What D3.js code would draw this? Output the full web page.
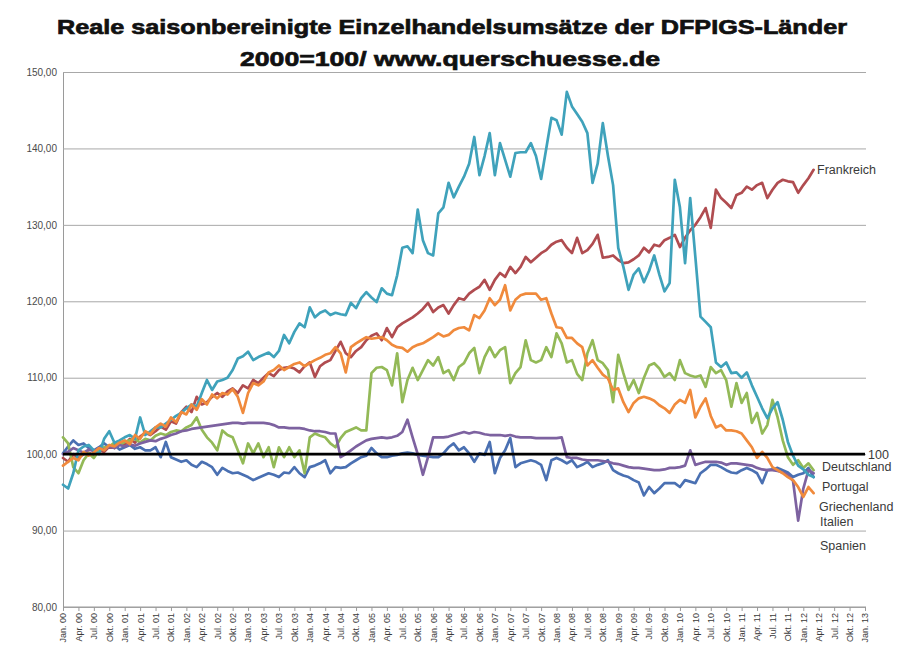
<!DOCTYPE html>
<html><head><meta charset="utf-8">
<script src="https://cdn.jsdelivr.net/npm/d3@7"></script>
<style>
body{margin:0;background:#fff;}
svg{display:block;font-family:"Liberation Sans",Arial,sans-serif;}
</style></head>
<body>
<svg id="chart" width="900" height="655"></svg>
<script>
// ---- data ----
const titleLines = ["Reale saisonbereinigte  Einzelhandelsumsätze der DFPIGS-Länder", "2000=100/ www.querschuesse.de"];
const quarterNames = ["Jan.", "Apr.", "Jul.", "Okt."];
const years = ["00","01","02","03","04","05","06","07","08","09","10","11","12","13"];
const yTicks = [80, 90, 100, 110, 120, 130, 140, 150];
const seriesNames = ["Deutschland", "Frankreich", "Portugal", "Italien", "Griechenland", "Spanien"];

const deutschland = [100.1,101,101.8,101.2,101.4,100.8,100.5,100.9,101.4,100.9,101.2,100.6,100.9,101.2,100.7,100.9,100.5,100.5,100.9,99.6,101.6,99.6,99.3,99,99.2,98.6,98.3,99,98.7,98.3,97.3,98.2,97.8,97.5,97.6,97.3,97,96.6,96.9,97.2,97.5,97.3,97,97.6,97.5,98.3,97.5,97,98.3,98.5,98.8,99.2,97.5,98.3,98.2,98.3,98.8,99.2,99.6,99.8,100.8,100.1,99.6,99.6,99.8,99.9,100.1,100.2,100.1,99.9,99.8,99.7,99.6,99.6,100.1,100.9,101.4,100.5,100.9,100.1,99,100.1,99.9,101.6,97.5,99.5,100.5,102.1,98.3,98.8,99,99.2,99,98.6,96.6,99.2,99.5,99.2,98.8,99.2,98.3,98.6,99,98.3,98.6,98.8,99.2,97.9,97.5,97.2,97,96.6,96.3,94.6,95.7,94.9,95.5,96.2,96.2,96.2,95.7,96.6,96.4,96.2,97.5,98,98.6,98.6,98.3,97.9,97.6,97.5,97.9,98.2,97.9,97.5,96.2,97.9,98,98.2,97.9,97.6,97,97.3,97.5,98.2,97];
const frankreich = [99.5,99,100,99.5,100,100.2,99.8,100.5,100.3,101,100.8,101.5,101.2,102,101.5,102.3,102.8,102.5,103,103.6,103.2,104.3,104,105.5,106.2,105.5,107.5,106.5,106.8,107.5,108,107.5,108.2,108.6,108,109,108.6,109.7,109.3,110,110.6,110.2,111,111.3,111.4,111.2,110.7,111.5,112,110.1,111.5,112,112.3,113.5,114.7,113.2,112.7,113.5,114,114.9,115.5,115.8,114.9,116.5,115.3,116.6,117.1,117.5,117.9,118.4,119,119.8,118.6,119.2,119.5,118.4,119.5,120.4,120.2,121,121.5,121.9,122.8,121.5,122.8,123.7,123.2,124.5,123.7,124.5,125.8,125.1,125.7,126.3,126.7,127.4,127.8,128,127,126.3,128.3,126.3,126.7,127.5,128.7,125.7,125.8,126,125.4,125,125.1,125.5,126,127,126.4,127.4,127.2,128,128.3,128.7,127.1,128.3,129.3,130,131,132.2,129.6,134.6,133.5,132.9,132.2,133.9,134.2,135,134.6,135.2,135.5,133.5,134.6,135.5,135.9,135.7,135.6,134.2,135.2,136.1,137.2];
const portugal = [102.2,101.4,98.3,97.5,99.2,100.1,99.5,100.5,100.9,101,101.5,101.2,101.6,101.8,102,101.5,102,101.8,102.4,102.7,102.5,102.9,103.1,103,103.5,103.8,104.8,103.2,102.2,101.5,100.5,103.1,102.5,102.2,100.5,98.8,101.4,100.1,101.4,99.6,100.9,98.3,100.9,99.6,100.9,99.6,100.5,97.5,102.2,102.7,102.4,102.2,101.4,100.9,102.1,102.9,103.2,103.5,103.1,103.1,110.6,111.3,111.4,111,109,113.2,106.8,109.7,111.3,109.7,111,112.3,111.6,112.7,110.6,111,109.7,111.4,111.9,113.2,113.9,110.6,112.7,114,112.7,113.6,114,109.3,110.6,111.4,114.9,112.3,112,112.3,114,112.7,115.8,114.5,112,112.3,110.5,109.7,113.2,114.9,112.3,111.9,111,106.8,113,110.6,108.4,109.7,108,110,111.6,111.9,111.2,110.1,110.6,109.7,112.3,110.6,110.3,110.1,110.3,108.8,111.4,110.6,111,109.7,106.2,109.3,106.7,108,104.1,105.4,102.7,103.8,107.1,104.8,101.8,99.6,98.6,99.2,98.2,98.8,97.9];
const italien = [100,100.3,100.8,100.5,100.2,100.6,100.4,100.8,100.6,101,100.8,101.2,101,101.3,101.1,101.4,101.6,101.8,101.7,102,102.2,102.5,102.7,103,103.1,103.3,103.4,103.5,103.6,103.7,103.8,103.9,104,104.1,104.1,104,104.1,104.1,104.1,104.1,104,103.8,103.5,103.5,103.4,103.4,103.4,103.3,103.1,103,103,102.9,102.7,102.7,99.6,100,100.5,101,101.4,101.8,102,102.1,102.2,102.1,102.2,102.4,102.9,104.5,102.2,100,97.3,99.6,102.2,102.2,102.2,102.3,102.5,102.7,102.9,102.7,102.9,102.8,102.6,102.5,102.5,102.5,102.4,102.5,102.3,102.2,102.2,102.2,102.1,102.1,102.1,102.1,102.1,102.2,99.6,99.5,99.5,99.3,99.2,99.2,99.2,99.1,99,98.8,98.7,98.5,98.3,98.2,98.2,98.1,98,97.9,97.9,98,98.2,98.2,98.3,98.5,100.5,98.6,98.8,99,99,99,98.9,98.6,98.8,98.8,98.7,98.6,98.5,98.2,98,97.9,97.9,97.8,97.6,97.3,96.5,91.3,95.5,97.9,97.5];
const griechenland = [96,95.5,97.5,100.5,101,101.2,100.5,100,102,103,101.5,101.8,102.2,102.5,102,104.8,102.5,103,103.5,103.5,104,104.5,105,105.4,106,106.5,106.2,108,109.7,108.4,109.5,109.7,110,111,112.5,112.8,113.4,112.3,112.7,113,113.3,112.7,113.5,115.6,114.5,116,117.1,116.6,119.2,117.9,118.5,118.8,118.2,118.5,118.3,118.2,119.8,119.1,120.4,121.2,120.5,119.9,121.7,121,120.8,123.4,127,127.2,126.3,132,128,126.3,126,131.5,132.3,135.5,133.6,135,136.3,138,141.5,136.5,139,142,136.5,140.7,138.5,136.3,139.4,139.5,139.5,140.7,139,136,140,144,143.7,141.8,147.4,145.5,144.5,143.5,142,135.5,138,143.3,139,135.2,127,124.5,121.5,123.5,124.3,122.5,124,126,123.5,121.3,122.4,135.9,132.3,125,133.5,125.8,118,117.3,116.6,112,111.4,112,110.6,110.7,110,110.7,109,107.5,106,104.7,106,106.8,104.5,101.6,99.8,98.5,98,97.3,97];
const spanien = [98.5,99,99.5,99.2,100.3,99.8,100.2,100.8,100.5,101.2,101,101.5,101.8,101.3,102.5,102,103,102.6,103.5,104,103.6,104.8,104.2,105.5,105.2,106.5,105.8,107.2,106.5,107.8,107.3,108,107.8,108.5,107.5,105.4,108,109.3,109,109.5,110.7,111,111.6,111,111.4,111.8,112,111.5,111.9,112.3,112.6,113,113.2,114,113.2,110.7,114,114.5,114.9,115.3,115.1,115.2,115.3,114.9,114.3,114,113.9,113.4,114,114.3,114.5,114.9,115.3,115.8,115.4,115.6,116.2,116.5,116.6,116.2,118.2,117.8,118.8,120.4,119.5,120.2,122.1,118.8,120.2,120.8,121,121,121,120.2,120.4,118.4,116.6,116.5,115.2,115.2,114.5,114,111.6,112.3,111.3,110.4,109.9,108.4,108.6,106.8,105.5,106.7,107.3,107.5,107.3,107,106.4,106,105.4,106.5,107.1,106.7,108.4,104.8,106.2,107.3,105,103.5,103.8,103.1,103.1,103,102.7,101.8,100.9,99.5,100.3,99.5,98.3,97.9,97.5,97,96.6,95.7,94.4,95.7,94.9];
const baseline = new Array(157).fill(100);

const seriesColors = ["#4a70b2", "#b04c50", "#93b957", "#7d62a0", "#3fa2bb", "#f08a3c"];

// ---- layout ----
const svg = d3.select("#chart");
const plot = {left: 63, right: 866, top: 72, bottom: 607};

const x = d3.scaleLinear().domain([0, 156]).range([63, 865]);
const y = d3.scaleLinear().domain([80, 150]).range([plot.bottom, plot.top]);

// title
svg.append("text").attr("x", 452).attr("y", 34).attr("text-anchor", "middle")
  .attr("font-size", 21).attr("font-weight", "bold").attr("fill", "#111").attr("stroke", "#111").attr("stroke-width", 0.7)
  .attr("textLength", 790).attr("lengthAdjust", "spacingAndGlyphs")
  .text(titleLines[0]);
svg.append("text").attr("x", 450).attr("y", 66).attr("text-anchor", "middle")
  .attr("font-size", 21).attr("font-weight", "bold").attr("fill", "#111").attr("stroke", "#111").attr("stroke-width", 0.7)
  .attr("textLength", 420).attr("lengthAdjust", "spacingAndGlyphs")
  .text(titleLines[1]);

// gridlines + y axis
const yAxis = d3.axisLeft(y).tickValues(yTicks)
  .tickFormat(d => d3.format(".2f")(d).replace(".", ","))
  .tickSize(-(plot.right - plot.left)).tickPadding(6);
const gy = svg.append("g").attr("transform", `translate(${plot.left},0)`).call(yAxis);
gy.select(".domain").attr("stroke", "#9a9a9a");
gy.selectAll(".tick line").attr("stroke", "#a8a8a8").attr("stroke-width", 1);
gy.selectAll(".tick text").attr("font-size", 10).attr("fill", "#4a4a4a").attr("font-family", "Liberation Sans, Arial, sans-serif");

// x axis
const tickIdx = d3.range(0, 157, 3);
const tickLabel = i => quarterNames[(i / 3) % 4] + " " + years[Math.floor(i / 12)];
const xAxis = d3.axisBottom(x).tickValues(tickIdx).tickFormat(tickLabel).tickSize(4).tickSizeOuter(0);
const gx = svg.append("g").attr("transform", `translate(0,${plot.bottom})`).call(xAxis);
gx.select(".domain").attr("stroke", "#9a9a9a").attr("d", `M${plot.left},0H${plot.right}`);
gx.selectAll(".tick line").attr("stroke", "#9a9a9a");
gx.selectAll(".tick text")
  .attr("font-size", 9).attr("fill", "#3a3a3a").attr("font-family", "Liberation Sans, Arial, sans-serif")
  .attr("transform", "rotate(-90)")
  .attr("text-anchor", "end").attr("dx", -6).attr("dy", "0.32em").attr("x", 0).attr("y", 0);

// series
const data = [deutschland, frankreich, portugal, italien, griechenland, spanien];
const line = d3.line().x((d, i) => x(i)).y(d => y(d));
svg.append("g").selectAll("path").data(data).join("path")
  .attr("d", line).attr("fill", "none")
  .attr("stroke", (d, i) => seriesColors[i]).attr("stroke-width", 2.7)
  .attr("stroke-linejoin", "round").attr("stroke-linecap", "round");

// 100 line
svg.append("path").attr("d", line(baseline)).attr("fill", "none").attr("stroke", "#000").attr("stroke-width", 2.6);

// labels
const lab = (t, xx, yy) => svg.append("text").attr("x", xx).attr("y", yy).attr("dy", "0.35em")
  .attr("font-size", 12.5).attr("fill", "#3a3a3a").text(t);
lab("Frankreich", 817, 170);
lab("100", 868, y(100));
lab(seriesNames[0], 822, 467);
lab(seriesNames[2], 822, 487);
lab(seriesNames[4], 819, 507);
lab(seriesNames[3], 820, 522);
lab(seriesNames[5], 820, 546);
</script>
</body></html>
